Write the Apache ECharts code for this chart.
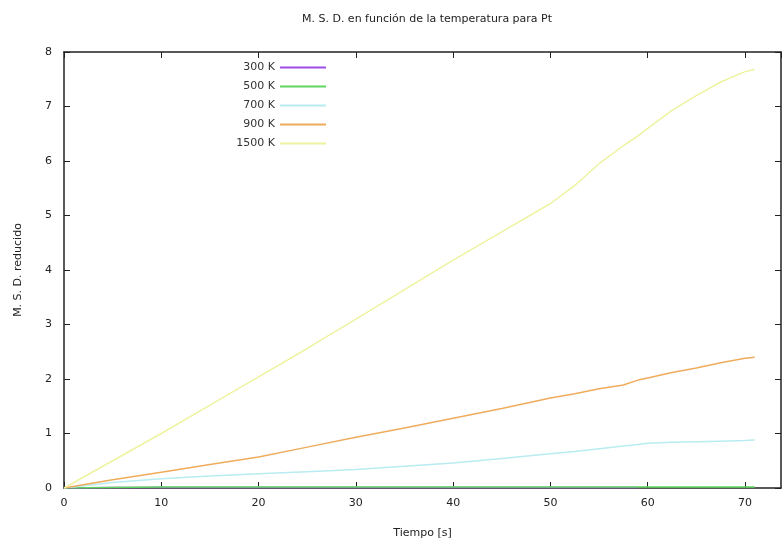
<!DOCTYPE html>
<html>
<head>
<meta charset="utf-8">
<script src="https://cdn.jsdelivr.net/npm/echarts@6/dist/echarts.min.js"></script>
<style>html,body{margin:0;padding:0;background:#fff}#c{width:783px;height:553px}</style>
</head>
<body>
<div id="c"></div>
<script>
const time = [0, 5, 10, 15, 20, 25, 30, 35, 40, 45, 50, 52.5, 55, 57.5, 59, 60, 62.5, 65, 67.5, 70, 71];
const msd300 = [0, 0.01, 0.01, 0.01, 0.01, 0.01, 0.01, 0.01, 0.01, 0.01, 0.01, 0.01, 0.01, 0.01, 0.01];
const msd500 = [0, 0.01, 0.02, 0.02, 0.02, 0.02, 0.02, 0.02, 0.02, 0.02, 0.02, 0.02, 0.02, 0.02, 0.02, 0.02, 0.02, 0.02, 0.02, 0.02, 0.02];
const msd700 = [0, 0.1, 0.17, 0.22, 0.26, 0.3, 0.34, 0.4, 0.46, 0.54, 0.63, 0.67, 0.72, 0.77, 0.8, 0.82, 0.84, 0.85, 0.86, 0.87, 0.88];
const msd900 = [0, 0.15, 0.29, 0.43, 0.57, 0.75, 0.93, 1.1, 1.28, 1.46, 1.65, 1.73, 1.82, 1.89, 1.98, 2.02, 2.12, 2.2, 2.3, 2.38, 2.4];
const msd1500 = [0, 0.5, 1.0, 1.52, 2.04, 2.56, 3.1, 3.64, 4.18, 4.7, 5.22, 5.55, 5.95, 6.28, 6.46, 6.6, 6.93, 7.2, 7.45, 7.64, 7.68];
const seriesNames = ['300 K', '500 K', '700 K', '900 K', '1500 K'];
const seriesData = [msd300, msd500, msd700, msd900, msd1500];
const colors = ['#a04ce8', '#5fd65f', '#b8ecf0', '#eeac5c', '#eef3a0'];

const font = 'DejaVu Sans';
const chart = echarts.init(document.getElementById('c'), null, {renderer: 'canvas'});

const series = seriesNames.map((name, i) => ({
  name: name,
  type: 'line',
  showSymbol: false,
  symbol: 'none',
  data: seriesData[i].map((v, j) => [time[j], v]),
  lineStyle: {color: colors[i], width: 1.5},
  itemStyle: {color: colors[i]},
  z: 3
}));

const legends = seriesNames.map((name, i) => ({
  data: [name],
  right: 783 - 326,
  top: 62 + i * 19,
  icon: 'rect',
  itemWidth: 46,
  itemHeight: 2,
  align: 'right',
  padding: 0,
  textStyle: {fontFamily: font, fontSize: 11, color: '#333'}
}));

const tick = () => ({show: true, inside: true, length: 6, lineStyle: {color: '#222', width: 1}});
const line = () => ({show: true, onZero: false, lineStyle: {color: '#222', width: 1.5}});

chart.setOption({
  animation: false,
  backgroundColor: '#fff',
  title: {
    text: 'M. S. D. en función de la temperatura para Pt',
    left: 422, top: 9, textAlign: 'center',
    textStyle: {fontFamily: font, fontSize: 11, fontWeight: 'normal', color: '#222'}
  },
  legend: legends,
  grid: {left: 64, right: 2, top: 52, bottom: 65, containLabel: false},
  xAxis: [{
    type: 'value', min: 0, max: 73.7, interval: 10, position: 'bottom',
    name: 'Tiempo [s]', nameLocation: 'middle', nameGap: 40,
    nameTextStyle: {fontFamily: font, fontSize: 11, color: '#222'},
    axisLine: line(),
    axisTick: tick(),
    axisLabel: {fontFamily: font, fontSize: 11, color: '#222', margin: 10, showMaxLabel: false},
    splitLine: {show: false}
  }, {
    type: 'value', min: 0, max: 73.7, interval: 10, position: 'top',
    axisLine: line(),
    axisTick: tick(),
    axisLabel: {show: false},
    splitLine: {show: false}
  }],
  yAxis: [{
    type: 'value', min: 0, max: 8, interval: 1, position: 'left',
    name: 'M. S. D. reducido', nameLocation: 'middle', nameGap: 40,
    nameTextStyle: {fontFamily: font, fontSize: 11, color: '#222'},
    axisLine: line(),
    axisTick: tick(),
    axisLabel: {fontFamily: font, fontSize: 11, color: '#222', margin: 12},
    splitLine: {show: false}
  }, {
    type: 'value', min: 0, max: 8, interval: 1, position: 'right',
    axisLine: line(),
    axisTick: tick(),
    axisLabel: {show: false},
    splitLine: {show: false}
  }],
  series: series
});
</script>
</body>
</html>
